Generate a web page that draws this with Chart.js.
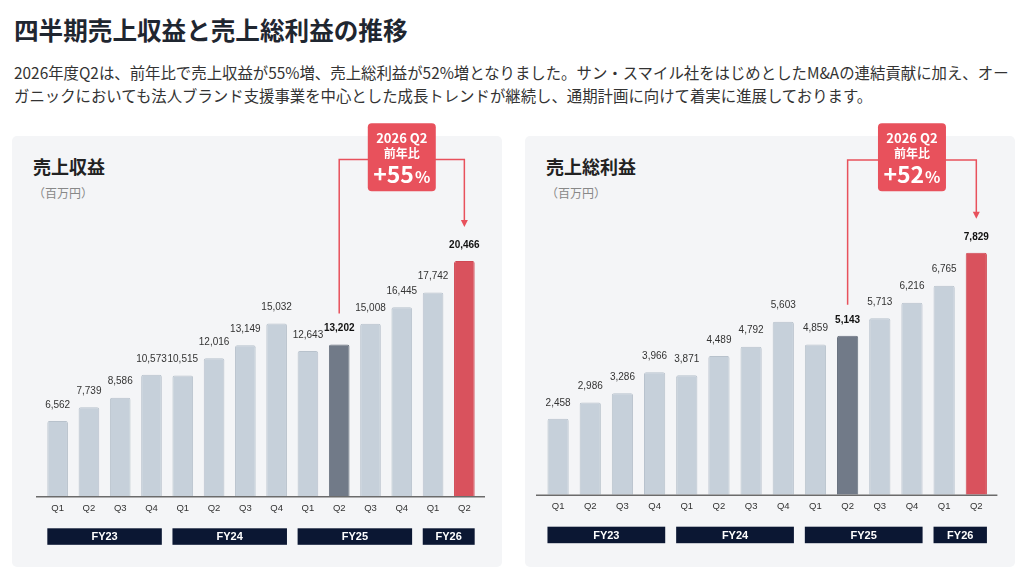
<!DOCTYPE html>
<html lang="ja">
<head>
<meta charset="utf-8">
<script src="https://cdn.jsdelivr.net/npm/chart.js@4.4.1/dist/chart.umd.min.js"></script>
<style>
  body {
    margin: 0;
    width: 1024px;
    height: 575px;
    background: #fff;
    font-family: "Noto Sans CJK JP", "Noto Sans", sans-serif;
    position: relative;
    overflow: hidden;
  }
  h1 {
    position: absolute;
    left: 14px;
    top: 12px;
    margin: 0;
    font-size: 24.6px;
    line-height: 34px;
    font-weight: 700;
    color: #1f2630;
  }
  .lead {
    position: absolute;
    left: 14px;
    top: 61px;
    margin: 0;
    font-size: 15.4px;
    line-height: 23px;
    color: #333;
    white-space: nowrap;
  }
  .panel {
    position: absolute;
    top: 136px;
    width: 490px;
    height: 431px;
    background: #f4f5f7;
    border-radius: 5px;
  }
  .panel-title {
    position: absolute;
    left: 21px;
    top: 18px;
    font-size: 18px;
    line-height: 24px;
    font-weight: 700;
    color: #222;
  }
  .unit {
    position: absolute;
    left: 21px;
    top: 49px;
    font-size: 12px;
    line-height: 16px;
    color: #888;
  }
  .chart-box {
    position: absolute;
    top: 110px;
    width: 490px;
    height: 458px;
  }
</style>
</head>
<body>
<h1>四半期売上収益と売上総利益の推移</h1>
<p class="lead">2026年度Q2は、前年比で売上収益が55%増、売上総利益が52%増となりました。サン・スマイル社をはじめとしたM&amp;Aの連結貢献に加え、オー<br>ガニックにおいても法人ブランド支援事業を中心とした成長トレンドが継続し、通期計画に向けて着実に進展しております。</p>

<div class="panel" style="left:12px">
  <div class="panel-title">売上収益</div>
  <div class="unit">（百万円）</div>
</div>
<div class="panel" style="left:525px">
  <div class="panel-title">売上総利益</div>
  <div class="unit">（百万円）</div>
</div>

<div class="chart-box" style="left:12px"><canvas id="revenueChart"></canvas></div>
<div class="chart-box" style="left:525px"><canvas id="profitChart"></canvas></div>

<script>
// Quarters on the x axis
const quarters = ["Q1", "Q2", "Q3", "Q4", "Q1", "Q2", "Q3", "Q4", "Q1", "Q2", "Q3", "Q4", "Q1", "Q2"];

// Fiscal year groups (first and last quarter index)
const fiscalYears = ["FY23", "FY24", "FY25", "FY26"];
const fyStart = [0, 4, 8, 12];
const fyEnd = [3, 7, 11, 13];

// 売上収益 / 売上総利益 (百万円)
const revenue = [6562, 7739, 8586, 10573, 10515, 12016, 13149, 15032, 12643, 13202, 15008, 16445, 17742, 20466];
const grossProfit = [2458, 2986, 3286, 3966, 3871, 4489, 4792, 5603, 4859, 5143, 5713, 6216, 6765, 7829];

// Year-on-year comparison
const compareIndex = 9;
const currentIndex = 13;
const revenueGrowth = "+55";
const profitGrowth = "+52";

const RED = "#e8515c";
const NUM_FONT = '"Liberation Sans", Arial, sans-serif';
const JP_FONT = '"Noto Sans CJK JP", "Noto Sans", sans-serif';

function barColor(i) {
  if (i === currentIndex) return "#d9525d";
  if (i === compareIndex) return "#717a88";
  return "#c6d0da";
}
function barBorder(i) {
  if (i === currentIndex) return "#cf4853";
  if (i === compareIndex) return "#69727f";
  return "#b8c2cc";
}

// Baseline, value labels, FY boxes and the YoY callout
const decorPlugin = {
  id: "decor",
  afterDatasetsDraw(chart, args, opts) {
    const ctx = chart.ctx;
    const area = chart.chartArea;
    const xScale = chart.scales.x;
    const meta = chart.getDatasetMeta(0);
    const values = chart.data.datasets[0].data;
    ctx.save();

    // baseline
    ctx.strokeStyle = "#6b6b6b";
    ctx.lineWidth = 1.5;
    ctx.beginPath();
    ctx.moveTo(area.left - 6, area.bottom + 0.5);
    ctx.lineTo(area.right + 5, area.bottom + 0.5);
    ctx.stroke();

    // value labels
    ctx.textAlign = "center";
    ctx.textBaseline = "middle";
    meta.data.forEach((bar, i) => {
      const hi = i === compareIndex || i === currentIndex;
      ctx.font = (hi ? "bold " : "") + "10px " + NUM_FONT;
      ctx.fillStyle = hi ? "#111" : "#333";
      ctx.fillText(values[i].toLocaleString("en-US"), bar.x, bar.y - 16);
    });

    // fiscal year boxes
    const step = xScale.getPixelForValue(1) - xScale.getPixelForValue(0);
    fiscalYears.forEach((fy, k) => {
      const x0 = xScale.getPixelForValue(fyStart[k]) - step * 0.33;
      const x1 = xScale.getPixelForValue(fyEnd[k]) + step * 0.33;
      const y0 = area.bottom + 32;
      ctx.fillStyle = "#0b1733";
      ctx.fillRect(x0, y0, x1 - x0, 16.5);
      ctx.fillStyle = "#fff";
      ctx.font = "bold 11px " + NUM_FONT;
      ctx.fillText(fy, (x0 + x1) / 2, y0 + 8.8);
    });

    // callout lines
    const prev = meta.data[compareIndex];
    const cur = meta.data[currentIndex];
    const lineY = opts.lineY;
    const tip = cur.y - 34;
    ctx.strokeStyle = RED;
    ctx.lineWidth = 1.5;
    ctx.beginPath();
    ctx.moveTo(prev.x, prev.y - 31);
    ctx.lineTo(prev.x, lineY);
    ctx.lineTo(cur.x, lineY);
    ctx.lineTo(cur.x, tip - 6);
    ctx.stroke();
    ctx.fillStyle = RED;
    ctx.beginPath();
    ctx.moveTo(cur.x - 3.5, tip - 7);
    ctx.lineTo(cur.x + 3.5, tip - 7);
    ctx.lineTo(cur.x, tip);
    ctx.closePath();
    ctx.fill();

    // callout box
    const mid = (prev.x + cur.x) / 2;
    const bw = 68, bh = 68, top = opts.boxTop;
    ctx.beginPath();
    ctx.roundRect(mid - bw / 2, top, bw, bh, 4);
    ctx.fill();
    ctx.fillStyle = "#fff";
    ctx.font = "bold 13px " + JP_FONT;
    ctx.fillText("2026 Q2", mid, top + 15);
    ctx.font = "bold 12px " + JP_FONT;
    ctx.fillText("前年比", mid, top + 30);

    ctx.font = "bold 23px " + JP_FONT;
    const w1 = ctx.measureText(opts.growth).width;
    ctx.font = "bold 16px " + JP_FONT;
    const w2 = ctx.measureText("%").width;
    const start = mid - (w1 + w2 + 1) / 2;
    ctx.textAlign = "left";
    ctx.textBaseline = "alphabetic";
    ctx.font = "bold 23px " + JP_FONT;
    ctx.fillText(opts.growth, start, top + 60);
    ctx.font = "bold 16px " + JP_FONT;
    ctx.fillText("%", start + w1 + 1, top + 60);

    ctx.restore();
  },
};

function makeChart(id, values, cfg) {
  const ctx = document.getElementById(id).getContext("2d");
  return new Chart(ctx, {
    type: "bar",
    data: {
      labels: quarters,
      datasets: [
        {
          data: values,
          backgroundColor: values.map((v, i) => barColor(i)),
          borderColor: values.map((v, i) => barBorder(i)),
          borderWidth: 1,
          borderSkipped: "bottom",
          borderRadius: { topLeft: 2, topRight: 2 },
          barPercentage: 0.66,
          categoryPercentage: 1,
        },
      ],
    },
    options: {
      responsive: true,
      maintainAspectRatio: false,
      animation: false,
      layout: {
        padding: { left: cfg.left, right: cfg.right, top: cfg.top, bottom: 0 },
      },
      scales: {
        x: {
          grid: { display: false },
          border: { display: false },
          ticks: {
            color: "#333",
            padding: -2,
            font: { size: 9.5, family: NUM_FONT },
          },
          afterFit: (scale) => {
            scale.height = cfg.axisHeight;
          },
        },
        y: {
          display: false,
          min: 0,
          max: cfg.yMax,
        },
      },
      plugins: {
        legend: { display: false },
        tooltip: { enabled: false },
        decor: { lineY: cfg.lineY, boxTop: cfg.boxTop, growth: cfg.growth },
      },
    },
    plugins: [decorPlugin],
  });
}

makeChart("revenueChart", revenue, {
  left: 30, right: 22, top: 122, axisHeight: 71.7, yMax: 23000,
  lineY: 49.5, boxTop: 13.3, growth: revenueGrowth,
});

makeChart("profitChart", grossProfit, {
  left: 17, right: 22.6, top: 106.7, axisHeight: 73.3, yMax: 9000,
  lineY: 50, boxTop: 13.3, growth: profitGrowth,
});
</script>
</body>
</html>
